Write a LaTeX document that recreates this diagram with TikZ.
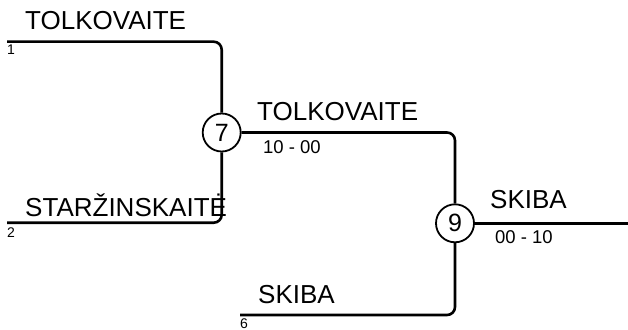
\documentclass[tikz,border=0pt]{standalone}
\usepackage{fontspec}
\setmainfont{Liberation Sans}
\begin{document}
\begin{tikzpicture}[x=1pt,y=-1pt,
  wire/.style={line width=2.6pt,rounded corners=8pt},
  matchnode/.style={circle,draw,line width=1.8pt,minimum size=38pt,inner sep=0pt,font=\fontsize{25}{25}\selectfont},
  pname/.style={anchor=base west,inner sep=0pt,font=\fontsize{26}{26}\selectfont},
  seedlbl/.style={anchor=base west,inner sep=0pt,font=\fontsize{14}{14}\selectfont},
  scorelbl/.style={anchor=base west,inner sep=0pt,font=\fontsize{18.5}{18.5}\selectfont}]
\useasboundingbox (0,0) rectangle (628,329);
\node[matchnode] (n7) at (221.7,132.5) {7};
\node[matchnode] (n9) at (455,223.3) {9};
\coordinate (s1) at (7,41.7);
\coordinate (s2) at (7,222.7);
\coordinate (s6) at (240,315);
\coordinate (out) at (628,223.3);
\draw[wire] (s1) -| (n7);
\draw[wire] (s2) -| (n7);
\draw[wire] (n7) -| (n9);
\draw[wire] (s6) -| (n9);
\draw[wire] (n9) -- (out);
\node[pname] (t1) at (25,29.5) {TOLKOVAITE};
\node[seedlbl] (l1) at (7,55) {1};
\node[pname] (t2) at (25,216) {STARŽINSKAITĖ};
\node[seedlbl] (l2) at (7,237) {2};
\node[pname] (t7) at (257,120) {TOLKOVAITE};
\node[scorelbl] (r7) at (263,153) {10 - 00};
\node[pname] (t9) at (490,208) {SKIBA};
\node[scorelbl] (r9) at (495,243) {00 - 10};
\node[pname] (t6) at (258,303) {SKIBA};
\node[seedlbl] (l6) at (240,328) {6};
\end{tikzpicture}
\end{document}
